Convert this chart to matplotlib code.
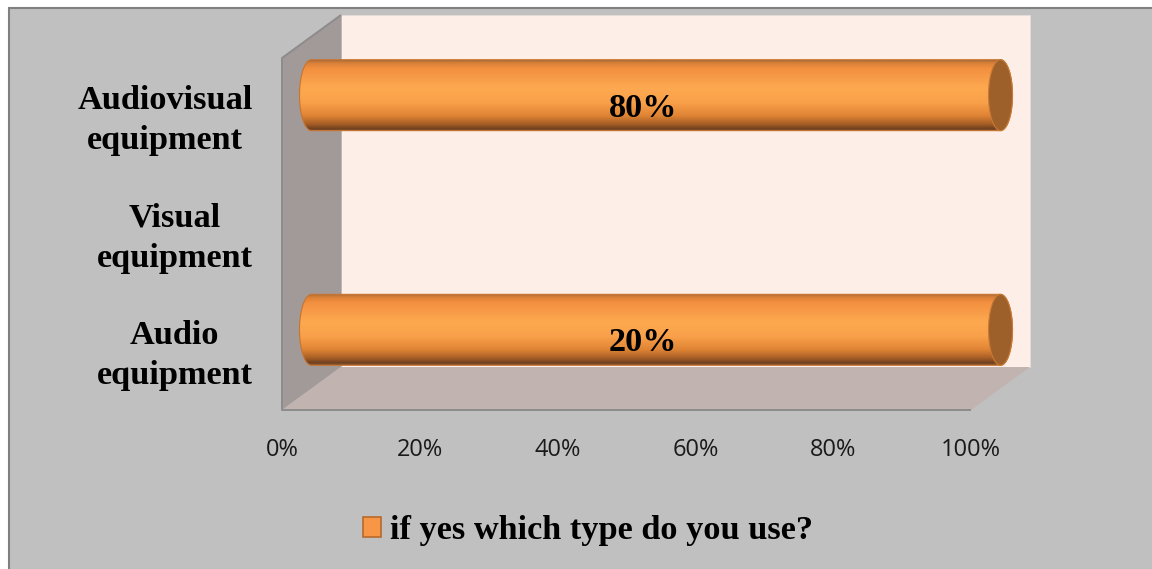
import numpy as np
import matplotlib
matplotlib.use("Agg")
import matplotlib.pyplot as plt
from matplotlib.patches import Polygon, Ellipse, Patch, PathPatch, Rectangle
from matplotlib.path import Path
from matplotlib.colors import LinearSegmentedColormap
from matplotlib.font_manager import FontProperties
from matplotlib.transforms import ScaledTranslation

# ---- data -------------------------------------------------------------
categories = ["Audio\nequipment", "Visual\nequipment", "Audiovisual\nequipment"]
values = [20, 0, 80]                      # percent of respondents
series_name = "if yes which type do you use?"
xticks = [0, 20, 40, 60, 80, 100]
xtick_labels = ["0%", "20%", "40%", "60%", "80%", "100%"]

# single-series 100% stacked bars: each non-empty category fills the axis
shares = [100.0 if v > 0 else 0.0 for v in values]

# ---- styling ----------------------------------------------------------
W, H, DPI = 1152, 569, 100
serif_bold = FontProperties(family="Liberation Serif", weight="bold", size=24.7)
tick_font = FontProperties(family="Open Sans", size=17)

BG = "#c0c0c0"
BACK_WALL = "#fdeee8"
SIDE_WALL = "#a29a98"
FLOOR = "#c1b4b0"
EDGE = "#8c8c8c"
CAP = "#9d602b"
SWATCH = "#f79646"

fig = plt.figure(figsize=(W / DPI, H / DPI), dpi=DPI, facecolor="white")

# chart area frame
frame = Rectangle((9 / W, -0.05), 1.1, 1 - 8 / H + 0.05, transform=fig.transFigure,
                  facecolor=BG, edgecolor="#808080", linewidth=1.5, zorder=-1)
fig.add_artist(frame)

# axes spans the front face of the 3-D plot box
x0_px, x1_px, ytop_px, ybot_px = 282, 971, 58, 410
ax = fig.add_axes([x0_px / W, 1 - ybot_px / H, (x1_px - x0_px) / W, (ybot_px - ytop_px) / H])
ax.set_facecolor("none")
for s in ax.spines.values():
    s.set_visible(False)

xmin, xmax, ymin, ymax = 0, 100, -0.5, 2.5
# depth of the box in data units (right/up)
dx = 59 / ((x1_px - x0_px) / (xmax - xmin))
dy = 43 / ((ybot_px - ytop_px) / (ymax - ymin))

# walls
back = Polygon([(xmin + dx, ymin + dy), (xmax + dx, ymin + dy),
                (xmax + dx, ymax + dy), (xmin + dx, ymax + dy)],
               closed=True, facecolor=BACK_WALL, edgecolor="#e6dcd8", lw=0.6,
               clip_on=False, zorder=1)
side = Polygon([(xmin, ymin), (xmin + dx, ymin + dy), (xmin + dx, ymax + dy), (xmin, ymax)],
               closed=True, facecolor=SIDE_WALL, edgecolor="none", clip_on=False, zorder=1)
floor = Polygon([(xmin, ymin), (xmax, ymin), (xmax + dx, ymin + dy), (xmin + dx, ymin + dy)],
                closed=True, facecolor=FLOOR, edgecolor="none", clip_on=False, zorder=1)
for p in (back, side, floor):
    ax.add_patch(p)
ax.plot([xmin + dx, xmin, xmin, xmax], [ymax + dy, ymax, ymin, ymin],
        color=EDGE, lw=1.4, clip_on=False, zorder=2, solid_capstyle="butt")
ax.plot([xmin + dx, xmin + dx], [ymin + dy, ymax + dy], color="#b8b0ae", lw=0.6,
        clip_on=False, zorder=2)

# cylinder shading, top -> bottom
stops = [(0.00, "#a86a38"), (0.04, "#d88038"), (0.12, "#f39040"), (0.40, "#fda950"),
         (0.60, "#f9a04a"), (0.78, "#e08535"), (0.90, "#a85f26"), (0.97, "#704020"),
         (1.00, "#8a5a30")]
cyl_cmap = LinearSegmentedColormap.from_list("cyl", stops)
grad = cyl_cmap(np.linspace(0, 1, 256))[:, None, :]

bar_h = 0.605
cap_w = 24 / ((x1_px - x0_px) / (xmax - xmin))

for i, (share, val) in enumerate(zip(shares, values)):
    if share <= 0:
        continue
    yc = i + dy / 2
    xa = xmin + dx / 2
    xb = share + dx / 2
    a, b = cap_w / 2, bar_h / 2
    t_left = np.linspace(np.pi / 2, 3 * np.pi / 2, 60)
    t_right = np.linspace(-np.pi / 2, np.pi / 2, 60)
    left = np.column_stack([xa + a * np.cos(t_left), yc + b * np.sin(t_left)])
    right = np.column_stack([xb + a * np.cos(t_right), yc + b * np.sin(t_right)])
    verts = np.vstack([left, right, left[:1]])
    body = PathPatch(Path(verts, closed=True), facecolor="none", edgecolor="#c87430",
                     lw=0.8, clip_on=False, zorder=4)
    ax.add_patch(body)
    im = ax.imshow(grad, extent=(xa - a, xb + a, yc - b, yc + b), aspect="auto",
                   interpolation="bilinear", origin="upper", zorder=3)
    im.set_clip_path(body)
    im.set_clip_box(fig.bbox)
    cap = Ellipse((xb, yc), cap_w, bar_h, facecolor=CAP, edgecolor="#c87a35", lw=0.8,
                  clip_on=False, zorder=5)
    ax.add_patch(cap)
    ax.text(share / 2 + dx * 0.28, i + dy * 0.2, f"{val}%", ha="center", va="center",
            fontproperties=serif_bold, color="black", zorder=6, clip_on=False)

ax.set_xlim(xmin, xmax)
ax.set_ylim(ymin, ymax)
ax.set_xticks(xticks)
ax.set_xticklabels(xtick_labels, fontproperties=tick_font, color="#1a1a1a")
ax.set_yticks(range(len(categories)))
ax.set_yticklabels(categories, fontproperties=serif_bold, ma="center", linespacing=1.38)
ax.tick_params(axis="x", length=0, pad=20)
ax.tick_params(axis="y", length=0, pad=21)
lift = ScaledTranslation(0, 4 / DPI, fig.dpi_scale_trans)
for lbl in ax.get_yticklabels():
    lbl.set_transform(lbl.get_transform() + lift)

ax.legend(handles=[Patch(facecolor=SWATCH, edgecolor="#b8692a", lw=1.2, label=series_name)],
          loc="center", bbox_to_anchor=(588 / W, 1 - 531 / H), bbox_transform=fig.transFigure,
          frameon=False, prop=serif_bold, handlelength=0.52, handleheight=0.52,
          handletextpad=0.25)

fig.savefig("out.png", dpi=DPI, facecolor=fig.get_facecolor())
